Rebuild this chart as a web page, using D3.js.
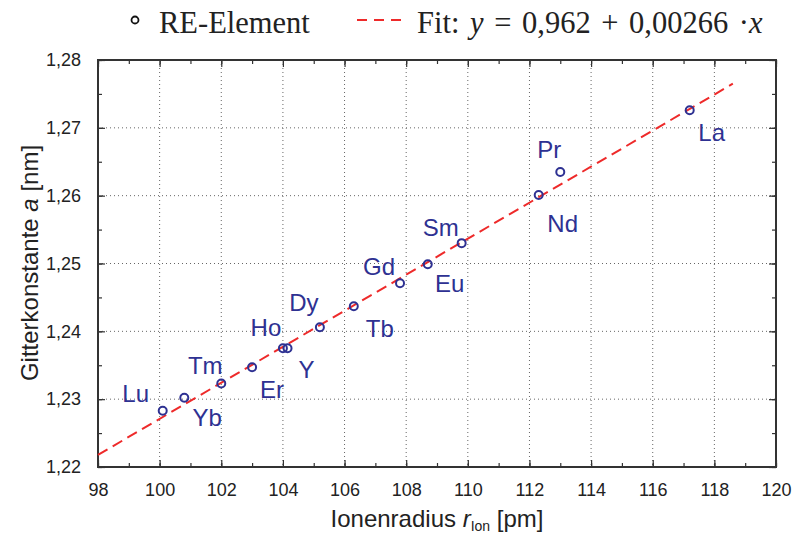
<!DOCTYPE html>
<meta charset="UTF-8">
<script src="https://d3js.org/d3.v7.min.js"></script>
<style>
  body { margin: 0; background: #fff; }
</style>
<svg id="chart" width="792" height="536" font-family="Liberation Sans, Arial, sans-serif"></svg>
<script>

// Data
var elements  = ["La", "Pr", "Nd", "Sm", "Eu", "Gd", "Tb", "Dy", "Ho", "Y", "Er", "Tm", "Yb", "Lu"];
var ionRadius = [117.2, 113.0, 112.3, 109.8, 108.7, 107.8, 106.3, 105.2, 104.0, 104.15, 103.0, 102.0, 100.8, 100.1];
var latticeA  = [1.2726, 1.2635, 1.2601, 1.2530, 1.2499, 1.2471, 1.2437, 1.2406, 1.2375, 1.2375, 1.2347, 1.2323, 1.2302, 1.2283];

// linear fit (as drawn)
var fitIntercept = 0.9615;
var fitSlope = 0.002656;
var fitRange = [98, 118.6];

var xTicks = [98, 100, 102, 104, 106, 108, 110, 112, 114, 116, 118, 120];
var yTicks = [1.22, 1.23, 1.24, 1.25, 1.26, 1.27, 1.28];

var svg = d3.select("#chart");
var mLeft = 98, mRight = 776, mTop = 60, mBottom = 467;
var blue = "#2e3192", red = "#ee2a2a";

var x = d3.scaleLinear().domain([98, 120]).range([mLeft, mRight]);
var y = d3.scaleLinear().domain([1.22, 1.28]).range([mBottom, mTop]);

// grid
var grid = svg.append("g").attr("stroke", "#666").attr("stroke-dasharray", "1,3").attr("stroke-width", 1);
grid.selectAll(".gx").data(xTicks.slice(1, -1)).enter().append("line")
  .attr("x1", d => x(d)).attr("x2", d => x(d)).attr("y1", mTop).attr("y2", mBottom);
grid.selectAll(".gy").data(yTicks.slice(1, -1)).enter().append("line")
  .attr("y1", d => y(d)).attr("y2", d => y(d)).attr("x1", mLeft).attr("x2", mRight);

// axes with inward ticks on all four sides
var xMinor = d3.range(98, 120.01, 1);
var yMinor = d3.range(1.22, 1.2801, 0.005);
function axisSet(axis, tr) {
  var g = svg.append("g").attr("transform", tr).call(axis);
  g.select(".domain").remove();
  g.selectAll("line").attr("stroke", "#333").attr("stroke-width", 1.2);
  return g;
}
axisSet(d3.axisBottom(x).tickValues(xMinor).tickSize(-4).tickFormat(""), "translate(0," + mBottom + ")");
axisSet(d3.axisTop(x).tickValues(xMinor).tickSize(-4).tickFormat(""), "translate(0," + mTop + ")");
axisSet(d3.axisLeft(y).tickValues(yMinor).tickSize(-4).tickFormat(""), "translate(" + mLeft + ",0)");
axisSet(d3.axisRight(y).tickValues(yMinor).tickSize(-4).tickFormat(""), "translate(" + mRight + ",0)");

var xa = axisSet(d3.axisBottom(x).tickValues(xTicks).tickSize(-7).tickPadding(16).tickFormat(d3.format("d")), "translate(0," + mBottom + ")");
xa.selectAll("text").attr("font-size", 18).attr("fill", "#222").attr("font-family", "Liberation Sans");
axisSet(d3.axisTop(x).tickValues(xTicks).tickSize(-7).tickFormat(""), "translate(0," + mTop + ")");
var ya = axisSet(d3.axisLeft(y).tickValues(yTicks).tickSize(-7).tickPadding(17)
  .tickFormat(d => d3.format(".2f")(d).replace(".", ",")), "translate(" + mLeft + ",0)");
ya.selectAll("text").attr("font-size", 18).attr("fill", "#222").attr("font-family", "Liberation Sans");
axisSet(d3.axisRight(y).tickValues(yTicks).tickSize(-7).tickFormat(""), "translate(" + mRight + ",0)");

// frame
svg.append("rect").attr("x", mLeft).attr("y", mTop).attr("width", mRight - mLeft).attr("height", mBottom - mTop)
  .attr("fill", "none").attr("stroke", "#333").attr("stroke-width", 2);

// fit line
var line = d3.line().x(d => x(d)).y(d => y(fitIntercept + fitSlope * d));
svg.append("path").datum(fitRange).attr("d", line)
  .attr("fill", "none").attr("stroke", red).attr("stroke-width", 2).attr("stroke-dasharray", "11,6");

// points
var pts = elements.map((e, i) => ({ name: e, r: ionRadius[i], a: latticeA[i] }));
svg.append("g").selectAll("circle").data(pts).enter().append("circle")
  .attr("cx", d => x(d.r)).attr("cy", d => y(d.a)).attr("r", 4)
  .attr("fill", "none").attr("stroke", blue).attr("stroke-width", 2);

// labels (offsets from the point, in px)
var labelOffset = {
  La: [22, 22], Pr: [-11, -22], Nd: [24, 29], Sm: [-21, -16], Eu: [22, 19], Gd: [-21, -17],
  Tb: [26, 22], Dy: [-16, -25], Ho: [-17, -21], Y: [19, 21], Er: [20, 22], Tm: [-16, -18],
  Yb: [23, 20], Lu: [-27, -17]
};
svg.append("g").selectAll("text").data(pts).enter().append("text")
  .attr("x", d => x(d.r) + labelOffset[d.name][0])
  .attr("y", d => y(d.a) + labelOffset[d.name][1])
  .attr("text-anchor", "middle").attr("dominant-baseline", "central")
  .attr("font-size", 24).attr("fill", blue)
  .text(d => d.name);

// axis titles
var xt = svg.append("text").attr("x", 437).attr("y", 527).attr("text-anchor", "middle")
  .attr("font-size", 24).attr("fill", "#222");
xt.append("tspan").text("Ionenradius ");
xt.append("tspan").attr("font-style", "italic").text("r");
xt.append("tspan").attr("font-size", 14).attr("dy", 4).text("Ion");
xt.append("tspan").attr("dy", -4).text(" [pm]");

var yt = svg.append("text").attr("transform", "translate(38,263) rotate(-90)").attr("text-anchor", "middle")
  .attr("font-size", 24).attr("fill", "#222");
yt.append("tspan").text("Gitterkonstante ");
yt.append("tspan").attr("font-style", "italic").text("a");
yt.append("tspan").text(" [nm]");

// legend
var leg = svg.append("g").attr("font-family", "Liberation Serif").attr("fill", "#222");
leg.append("circle").attr("cx", 135).attr("cy", 20).attr("r", 3.5)
  .attr("fill", "none").attr("stroke", "#111").attr("stroke-width", 1.8);
leg.append("text").attr("x", 159).attr("y", 33).attr("font-size", 30.5)
  .text("RE-Element");
leg.append("line").attr("x1", 357).attr("x2", 401).attr("y1", 20).attr("y2", 20)
  .attr("stroke", red).attr("stroke-width", 2).attr("stroke-dasharray", "10,7");
var ft = leg.append("text").attr("x", 417).attr("y", 33).attr("font-size", 30.5)
  .attr("word-spacing", 3).style("white-space", "pre");
ft.append("tspan").text("Fit: ");
ft.append("tspan").attr("font-style", "italic").text("y");
ft.append("tspan").text(" = 0,962 + 0,00266 ·");
ft.append("tspan").attr("font-style", "italic").text("x");

</script>
